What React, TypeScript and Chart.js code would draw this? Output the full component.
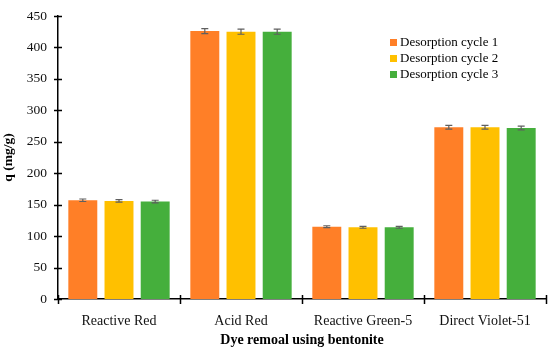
import React, { useEffect, useRef } from "react";
import Chart from "chart.js/auto";

const categories = ["Reactive Red", "Acid Red", "Reactive Green-5", "Direct Violet-51"];
const seriesLabels = ["Desorption cycle 1", "Desorption cycle 2", "Desorption cycle 3"];
const cycle1 = [157, 426, 115, 273];
const cycle2 = [156, 425, 114, 273];
const cycle3 = [155, 425, 114, 272];
const err1 = [2, 4, 1.5, 3];
const err2 = [2, 4, 1.5, 3];
const err3 = [2, 4, 1.5, 3];
const colors = ["#FF7F27", "#FFC000", "#45AF3C"];
const yMin = 0;
const yMax = 450;
const yStep = 50;
const yTitle = "q (mg/g)";
const xTitle = "Dye remoal using bentonite";

const FONT = "'Liberation Serif', 'Times New Roman', serif";

const errors = [err1, err2, err3];

const errorBarPlugin = {
  id: "errorBars",
  afterDatasetsDraw(chart: any) {
    const ctx = chart.ctx;
    const y = chart.scales.y;
    ctx.save();
    ctx.strokeStyle = "#5f5f5f";
    ctx.lineWidth = 1.2;
    chart.data.datasets.forEach((ds: any, di: number) => {
      const meta = chart.getDatasetMeta(di);
      meta.data.forEach((el: any, i: number) => {
        const v = ds.data[i];
        const e = errors[di][i];
        const top = y.getPixelForValue(v + e);
        const bot = y.getPixelForValue(v - e);
        const x = el.x;
        ctx.beginPath();
        ctx.moveTo(x, top);
        ctx.lineTo(x, bot);
        ctx.moveTo(x - 3.5, top);
        ctx.lineTo(x + 3.5, top);
        ctx.moveTo(x - 3.5, bot);
        ctx.lineTo(x + 3.5, bot);
        ctx.stroke();
      });
    });
    ctx.restore();
  },
};

const crossTickPlugin = {
  id: "crossTicks",
  afterDraw(chart: any) {
    const ctx = chart.ctx;
    const xs = chart.scales.x;
    const ys = chart.scales.y;
    const area = chart.chartArea;
    ctx.save();
    ctx.strokeStyle = "#000";
    ctx.lineWidth = 1.5;
    ctx.beginPath();
    ys.ticks.forEach((t: any) => {
      const py = Math.round(ys.getPixelForValue(t.value)) + 0.5;
      ctx.moveTo(area.left - 4, py);
      ctx.lineTo(area.left + 4, py);
    });
    const n = categories.length;
    const w = (area.right - area.left) / n;
    for (let i = 0; i <= n; i++) {
      const px = Math.round(xs.getPixelForValue(0) - w / 2 + i * w) + 0.5;
      ctx.moveTo(px, area.bottom - 4);
      ctx.lineTo(px, area.bottom + 5);
    }
    ctx.stroke();
    ctx.restore();
  },
};

export default function App() {
  const ref = useRef<HTMLCanvasElement | null>(null);

  useEffect(() => {
    if (!ref.current) return;
    const chart = new Chart(ref.current, {
      type: "bar",
      data: {
        labels: categories,
        datasets: [cycle1, cycle2, cycle3].map((d, i) => ({
          label: seriesLabels[i],
          data: d,
          backgroundColor: colors[i],
          borderWidth: 0,
          categoryPercentage: 0.89,
          barPercentage: 0.8,
        })),
      },
      options: {
        animation: false,
        responsive: false,
        maintainAspectRatio: false,
        layout: { padding: { left: 0, right: 4, top: 16, bottom: 0 } },
        plugins: {
          legend: { display: false },
          tooltip: { enabled: false },
        },
        scales: {
          x: {
            grid: { display: false },
            border: { display: true, color: "#000", width: 1.5 },
            ticks: {
              color: "#111",
              font: { family: FONT, size: 14 },
              padding: 6,
              maxRotation: 0,
            },
            title: {
              display: true,
              text: xTitle,
              color: "#000",
              font: { family: FONT, size: 14, weight: "bold" },
              padding: { top: 1, bottom: 0 },
            },
            afterFit(scale: any) {
              scale.height = 50;
            },
          },
          y: {
            min: yMin,
            max: yMax,
            grid: { display: false },
            border: { display: true, color: "#000", width: 1.5 },
            ticks: {
              stepSize: yStep,
              color: "#111",
              font: { family: FONT, size: 13.5 },
              padding: 3,
            },
            title: {
              display: true,
              text: yTitle,
              color: "#000",
              font: { family: FONT, size: 13.5, weight: "bold" },
              padding: { top: 0, bottom: 4 },
            },
            afterFit(scale: any) {
              scale.width = 58;
            },
          },
        },
      },
      plugins: [errorBarPlugin, crossTickPlugin],
    });
    return () => chart.destroy();
  }, []);

  return (
    <div style={{ position: "fixed", left: 0, top: 0, width: 550, height: 349, background: "#fff" }}>
      <canvas ref={ref} width={550} height={349} style={{ display: "block" }} />
      <div
        style={{
          position: "absolute",
          left: 390,
          top: 34,
          fontFamily: FONT,
          fontSize: 13,
          color: "#000",
          lineHeight: "16px",
        }}
      >
        {seriesLabels.map((s, i) => (
          <div key={s} style={{ display: "flex", alignItems: "center" }}>
            <span
              style={{
                display: "inline-block",
                width: 7,
                height: 7,
                background: colors[i],
                marginRight: 3,
              }}
            />
            <span>{s}</span>
          </div>
        ))}
      </div>
    </div>
  );
}
